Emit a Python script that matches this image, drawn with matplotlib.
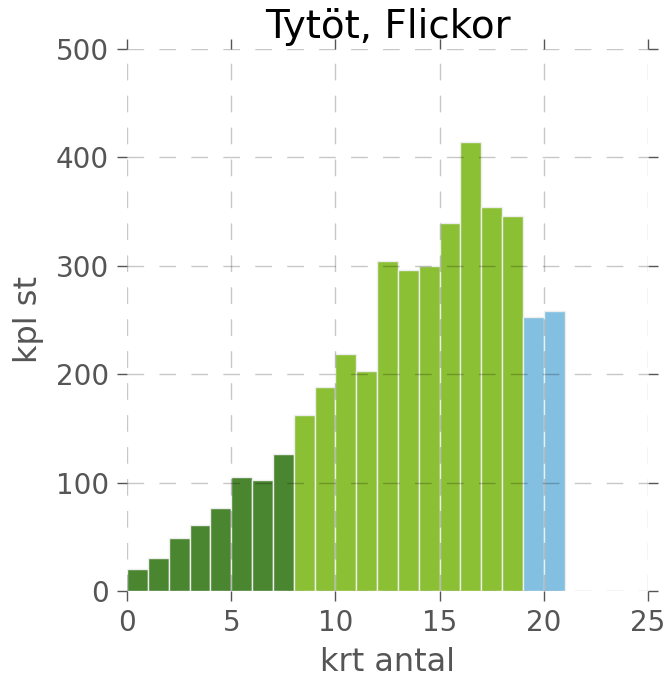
import matplotlib
matplotlib.use('Agg')
import matplotlib.pyplot as plt
import numpy as np

# Data
dark_vals = [20, 30, 49, 61, 77, 105, 102, 126]
light_vals = [162, 188, 219, 203, 304, 296, 300, 339, 414, 354, 346]
blue_vals = [253, 258]

dark_x = np.arange(0, 8)
light_x = np.arange(8, 19)
blue_x = np.arange(19, 21)

fig = plt.figure(figsize=(6.67, 6.8), dpi=100)
ax = fig.add_axes([0.1904, 0.1309, 0.7811, 0.7971])

ax.bar(dark_x, dark_vals, width=1, align='edge', color='#4a8630',
       edgecolor='#eeeeee', linewidth=1, zorder=2)
ax.bar(light_x, light_vals, width=1, align='edge', color='#8bc034',
       edgecolor='#eeeeee', linewidth=1, zorder=2)
ax.bar(blue_x, blue_vals, width=1, align='edge', color='#82bfe0',
       edgecolor='#eeeeee', linewidth=1, zorder=2)

ax.set_xlim(0, 25)
ax.set_ylim(0, 500)
ax.set_xticks([0, 5, 10, 15, 20, 25])
ax.set_yticks([0, 100, 200, 300, 400, 500])

for s in ax.spines.values():
    s.set_visible(False)

ax.set_axisbelow(False)
ax.grid(True, color='black', alpha=0.22, linestyle=(0, (12, 11)),
        linewidth=1, zorder=3)
ax.tick_params(direction='out', length=7.2, width=1, color='#555555',
               labelcolor='#555555', labelsize=20, pad=6,
               top=True, right=True, bottom=True, left=True)

ax.set_title('Tytöt, Flickor', fontsize=28, color='black', pad=8)
ax.set_xlabel('krt antal', fontsize=23, color='#555555', labelpad=7)
ax.set_ylabel('kpl st', fontsize=23, color='#555555', labelpad=8)

fig.savefig('out.png', dpi=100)
